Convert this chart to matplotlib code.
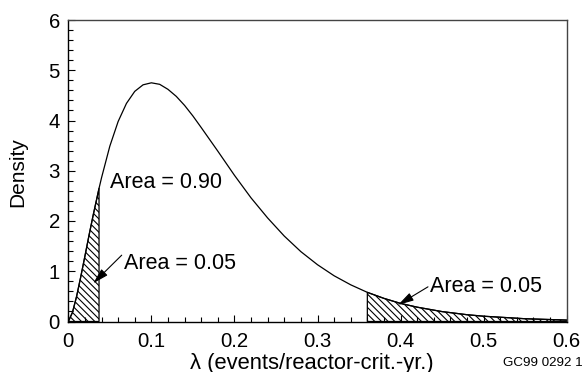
import matplotlib
matplotlib.use("Agg")
import matplotlib.pyplot as plt
import numpy as np

plt.rcParams['font.family'] = ['Liberation Sans', 'DejaVu Sans']
plt.rcParams['hatch.linewidth'] = 0.8

# Density curve
lam = [0, 0.005, 0.01, 0.015, 0.02, 0.025, 0.03, 0.037, 0.04, 0.05, 0.06, 0.07,
       0.08, 0.09, 0.10, 0.11, 0.12, 0.13, 0.14, 0.15, 0.16, 0.18, 0.20, 0.22,
       0.24, 0.26, 0.28, 0.30, 0.32, 0.34, 0.36, 0.38, 0.40, 0.42, 0.45, 0.48,
       0.50, 0.55, 0.60]
density = [0, 0.18, 0.50, 0.89, 1.30, 1.72, 2.12, 2.65, 2.86, 3.49, 3.98, 4.34,
           4.58, 4.71, 4.75, 4.72, 4.62, 4.48, 4.30, 4.09, 3.86, 3.39, 2.91, 2.46,
           2.06, 1.70, 1.39, 1.13, 0.91, 0.73, 0.58, 0.46, 0.36, 0.285, 0.197, 0.135,
           0.105, 0.055, 0.028]
lower_cut = 0.037
upper_cut = 0.36

x_ticks = [0, 0.1, 0.2, 0.3, 0.4, 0.5, 0.6]
x_ticklabels = ["0", "0.1", "0.2", "0.3", "0.4", "0.5", "0.6"]
y_ticks = [0, 1, 2, 3, 4, 5, 6]

area_mid_label = "Area = 0.90"
area_low_label = "Area = 0.05"
area_high_label = "Area = 0.05"
xlabel = "λ (events/reactor-crit.-yr.)"
ylabel = "Density"
footer = "GC99 0292 1"

lam_a = np.array(lam)
dens_a = np.array(density)

fig = plt.figure(figsize=(5.86, 3.72), dpi=100)
ax = fig.add_axes([68.3 / 586, 1 - 321.5 / 372, (566.7 - 68.3) / 586, (321.5 - 20) / 372])

hatch = '\\\\\\\\\\'
low = lam_a <= lower_cut
high = lam_a >= upper_cut
ax.fill_between(lam_a[low], 0, dens_a[low], facecolor='none', edgecolor='black',
                hatch=hatch, linewidth=0.9)
ax.fill_between(lam_a[high], 0, dens_a[high], facecolor='none', edgecolor='black',
                hatch=hatch, linewidth=0.9)
ax.plot(lam_a, dens_a, color='black', linewidth=0.9)

ax.set_xlim(0, 0.6)
ax.set_ylim(0, 6)
ax.set_xticks(x_ticks)
ax.set_xticklabels(x_ticklabels)
ax.set_yticks(y_ticks)
ax.set_xticks(np.arange(0, 0.6001, 0.02), minor=True)
ax.set_yticks(np.arange(0, 6.001, 0.2), minor=True)
ax.tick_params(which='both', direction='in', top=False, right=False,
               labelsize=14.7, width=0.8, colors='black')
ax.tick_params(which='major', length=5)
ax.tick_params(which='minor', length=3.5)
ax.tick_params(axis='x', which='major', pad=7.5)
ax.tick_params(axis='y', which='major', pad=6)
for s in ax.spines.values():
    s.set_linewidth(1.0)
ax.spines['top'].set_color('#444444')
ax.spines['right'].set_color('#444444')

ax.set_ylabel(ylabel, fontsize=15)
ax.yaxis.label.set_va('center')
ax.yaxis.set_label_coords((18 - 68.3) / (566.7 - 68.3), (321.5 - 172) / (321.5 - 20))
ax.set_xlabel(xlabel, fontsize=15.8)
ax.xaxis.set_label_coords((311.7 - 68.3) / (566.7 - 68.3), -(363 - 321.5) / (321.5 - 20))
ax.xaxis.label.set_va('center')

ax.text(0.0502, 2.76, area_mid_label, fontsize=15.5, va='center', ha='left')
ax.text(0.067, 1.16, area_low_label, fontsize=15.5, va='center', ha='left')
ax.text(0.435, 0.70, area_high_label, fontsize=15.5, va='center', ha='left')

arrow = dict(arrowstyle='-|>,head_length=9.5,head_width=2.6', mutation_scale=1,
             color='black', lw=0.8, shrinkA=0, shrinkB=0)
ax.annotate('', xy=(0.030, 0.76), xytext=(0.0643, 1.32), arrowprops=arrow)
ax.annotate('', xy=(0.397, 0.33), xytext=(0.433, 0.69), arrowprops=arrow)

fig.text(583 / 586, 1 - 363 / 372, footer, fontsize=9.6, ha='right', va='center')

fig.savefig("out.png", dpi=100)
